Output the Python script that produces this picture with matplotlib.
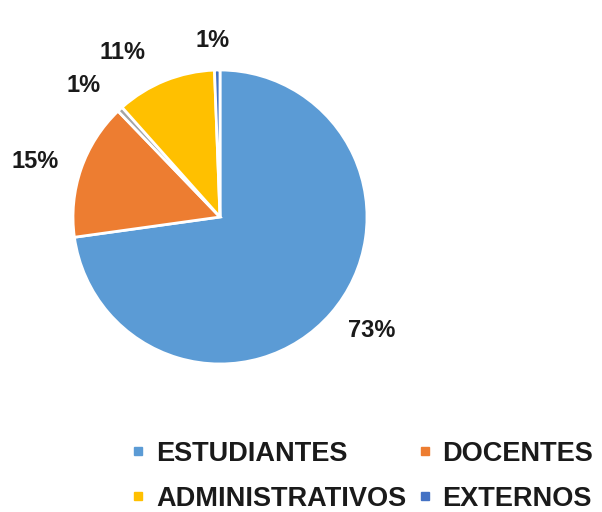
import matplotlib
matplotlib.use('Agg')
import numpy as np
import matplotlib.pyplot as plt
from matplotlib.lines import Line2D

plt.rcParams['font.family'] = ['Liberation Sans', 'DejaVu Sans']

# Data
categories = ['ESTUDIANTES', 'DOCENTES', 'OTROS', 'ADMINISTRATIVOS', 'EXTERNOS']
values = [72.8, 15.0, 0.6, 11.0, 0.6]
colors = ['#5B9BD5', '#ED7D31', '#A5A5A5', '#FFC000', '#4472C4']
# legend filled row by row: ESTUDIANTES DOCENTES / ADMINISTRATIVOS EXTERNOS
legend_items = ['ESTUDIANTES', 'ADMINISTRATIVOS', 'DOCENTES', 'EXTERNOS']
title = 'ESTAMENTOS'

W, H = 602, 512
fig = plt.figure(figsize=(W / 100, H / 100), dpi=100)

# pie centre (220, 217) px, radius 147 px
cx, cy, r = 220, 217, 147
ax = fig.add_axes([(cx - r) / W, (H - cy - r) / H, 2 * r / W, 2 * r / H])

wedges, texts, autotexts = ax.pie(
    values, colors=colors, startangle=90, counterclock=False,
    autopct='%.0f%%', pctdistance=1.28,
    wedgeprops=dict(edgecolor='white', linewidth=2),
    textprops=dict(fontsize=17, fontweight='bold', color='#1a1a1a'))
ax.set_xlim(-1, 1)
ax.set_ylim(-1, 1)
ax.set_aspect('auto')

# label placement like the original (nudged off the wedge middle)
angle_shift = [4.1, 2.4, 3.1, 8.6, 1.2]
label_dist = [1.29, 1.31, 1.29, 1.30, 1.20]
for w, t, da, d in zip(wedges, autotexts, angle_shift, label_dist):
    a = np.deg2rad((w.theta1 + w.theta2) / 2 + da)
    t.set_position((d * np.cos(a), d * np.sin(a)))

# title mostly cut off at the top
fig.text(0.355, 1.012, title, ha='center', va='center', fontsize=17,
         fontweight='bold', color='#7f7f7f')

handles = [Line2D([], [], marker='s', linestyle='none', markersize=6,
                  color=colors[categories.index(c)]) for c in legend_items]
fig.legend(handles, legend_items, loc='center', ncol=2,
           bbox_to_anchor=(0.602, 0.07), frameon=False,
           prop=dict(size=19.5, weight='bold'), handlelength=0.5,
           handletextpad=0.4, columnspacing=0.45, labelspacing=0.7,
           labelcolor='#1a1a1a')

fig.savefig('out.png', dpi=100)
